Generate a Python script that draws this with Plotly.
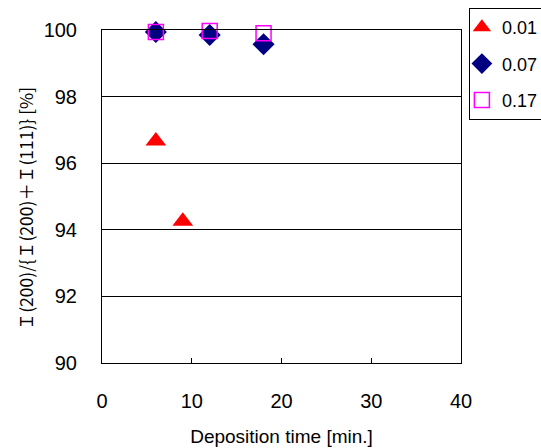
import plotly.graph_objects as go

x_001 = [6, 9]
y_001 = [96.67, 94.26]
x_007 = [6, 12, 18]
y_007 = [99.94, 99.85, 99.57]
x_017 = [6, 12, 18]
y_017 = [99.94, 99.97, 99.90]

x_ticks = [0, 10, 20, 30, 40]
y_ticks = [90, 92, 94, 96, 98, 100]
y_title = "Ｉ(200)/{Ｉ(200)＋Ｉ(111)} [%]"

font_main = "Liberation Sans, sans-serif"
tick_font = dict(family=font_main, size=20, color="black")

fig = go.Figure()
fig.add_trace(go.Scatter(x=x_001, y=y_001, mode="markers", name="0.01", legendgroup="a",
                         marker=dict(symbol="triangle-up", size=18, color="#ff0000"),
                         cliponaxis=False))
fig.add_trace(go.Scatter(x=x_007, y=y_007, mode="markers", name="0.07", legendgroup="b",
                         marker=dict(symbol="diamond", size=17, color="#000080"),
                         cliponaxis=False))
fig.add_trace(go.Scatter(x=x_017, y=y_017, mode="markers", name="0.17", legendgroup="c",
                         marker=dict(symbol="square-open", size=15, color="#ff00ff",
                                     line=dict(width=1.5, color="#ff00ff")),
                         cliponaxis=False))

fig.add_annotation(text=y_title, xref="paper", yref="paper", x=-0.214, y=0.462,
                   xanchor="center", yanchor="middle", textangle=-90, showarrow=False,
                   font=dict(size=17.5, family="Noto Sans CJK JP", color="black"))

fig.update_layout(
    width=541, height=448,
    margin=dict(l=102, r=80, t=30, b=85, autoexpand=False),
    paper_bgcolor="white", plot_bgcolor="white",
    font=dict(family=font_main, size=20, color="black"),
    showlegend=True,
    legend=dict(x=1.022, y=1.066, xanchor="left", yanchor="top",
                bordercolor="black", borderwidth=1, bgcolor="white",
                font=dict(family=font_main, size=18), indentation=-8,
                tracegroupgap=10, itemwidth=30),
    xaxis=dict(range=[0, 40], tickvals=x_ticks, ticks="inside", ticklen=5,
               tickcolor="black", showline=True, linecolor="black", linewidth=1,
               mirror=True, showgrid=False, zeroline=False, automargin=False,
               tickfont=tick_font, ticklabelstandoff=20,
               title=dict(text="Deposition time [min.]",
                          font=dict(family=font_main, size=19),
                          standoff=18)),
    yaxis=dict(range=[90, 100], tickvals=y_ticks, ticks="inside", ticklen=5,
               tickcolor="black", showline=True, linecolor="black", linewidth=1,
               mirror=True, showgrid=True, gridcolor="black", gridwidth=1,
               zeroline=False, automargin=False, tickfont=tick_font,
               ticklabelstandoff=20),
)

fig.write_html("out.html", config={"displayModeBar": False},
               post_script="document.body.style.margin='0';")
